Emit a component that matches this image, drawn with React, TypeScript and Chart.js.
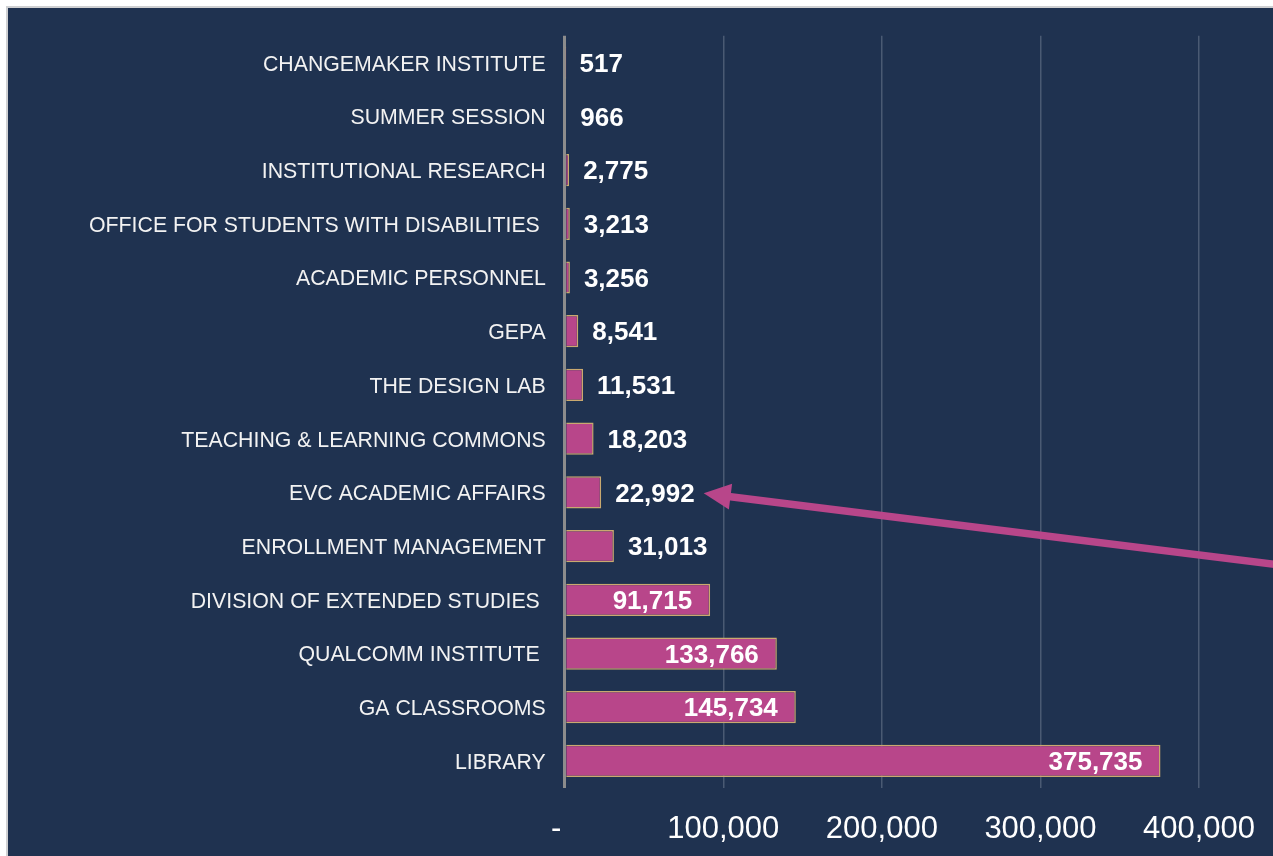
import React, { useEffect, useRef } from "react";
import { Chart, registerables } from "chart.js";

Chart.register(...registerables);

const categories = [
  "CHANGEMAKER INSTITUTE",
  "SUMMER SESSION",
  "INSTITUTIONAL RESEARCH",
  "OFFICE FOR STUDENTS WITH DISABILITIES ",
  "ACADEMIC PERSONNEL",
  "GEPA",
  "THE DESIGN LAB",
  "TEACHING & LEARNING COMMONS",
  "EVC ACADEMIC AFFAIRS",
  "ENROLLMENT MANAGEMENT",
  "DIVISION OF EXTENDED STUDIES ",
  "QUALCOMM INSTITUTE ",
  "GA CLASSROOMS",
  "LIBRARY",
];

const values = [517, 966, 2775, 3213, 3256, 8541, 11531, 18203, 22992, 31013, 91715, 133766, 145734, 375735];

const xTicks = [0, 100000, 200000, 300000, 400000];

const highlightIndex = 8;

const NAVY = "#1f3250";
const PINK = "#b8468a";
const FONT = "'Liberation Sans', Arial, sans-serif";

const fmt = (v: number) => v.toLocaleString("en-US");

const labelsPlugin = {
  id: "valueLabels",
  afterDatasetsDraw(chart: any) {
    const ctx = chart.ctx;
    const meta = chart.getDatasetMeta(0);
    ctx.save();
    ctx.font = `bold 26px ${FONT}`;
    ctx.fillStyle = "#ffffff";
    ctx.textBaseline = "middle";
    let arrowTip: { x: number; y: number } | null = null;
    meta.data.forEach((bar: any, i: number) => {
      const v = values[i];
      const txt = fmt(v);
      const y = bar.y + 2;
      if (v >= 50000) {
        ctx.textAlign = "right";
        ctx.fillText(txt, bar.x - 18, y);
      } else {
        ctx.textAlign = "left";
        const x0 = bar.x + 14;
        ctx.fillText(txt, x0, y);
        if (i === highlightIndex) {
          const w = ctx.measureText(txt).width;
          arrowTip = { x: x0 + w + 9, y: bar.y + 1 };
        }
      }
    });
    if (arrowTip) {
      const tip = arrowTip as { x: number; y: number };
      const tail = { x: 1275, y: tip.y + 72 };
      const ang = Math.atan2(tail.y - tip.y, tail.x - tip.x);
      const headLen = 27;
      const headHalf = 13;
      const bx = tip.x + Math.cos(ang) * headLen;
      const by = tip.y + Math.sin(ang) * headLen;
      ctx.strokeStyle = PINK;
      ctx.lineWidth = 7.5;
      ctx.beginPath();
      ctx.moveTo(bx - Math.cos(ang) * 2, by - Math.sin(ang) * 2);
      ctx.lineTo(tail.x, tail.y);
      ctx.stroke();
      ctx.fillStyle = PINK;
      ctx.beginPath();
      ctx.moveTo(tip.x, tip.y);
      ctx.lineTo(bx - Math.sin(ang) * headHalf, by + Math.cos(ang) * headHalf);
      ctx.lineTo(bx + Math.sin(ang) * headHalf, by - Math.cos(ang) * headHalf);
      ctx.closePath();
      ctx.fill();
    }
    ctx.restore();
  },
};

export default function App() {
  const ref = useRef<HTMLCanvasElement | null>(null);
  useEffect(() => {
    document.body.style.overflow = "hidden";
    const canvas = ref.current;
    if (!canvas) return;
    const chart = new Chart(canvas, {
      type: "bar",
      data: {
        labels: categories,
        datasets: [
          {
            data: values,
            backgroundColor: PINK,
            borderColor: "#c9a96f",
            borderWidth: 1.5,
            barPercentage: 0.6,
            categoryPercentage: 1,
          },
        ],
      },
      options: {
        indexAxis: "y",
        animation: false,
        responsive: false,
        maintainAspectRatio: false,
        layout: { padding: { left: 62, right: 18, top: 20, bottom: 12 } },
        plugins: { legend: { display: false }, tooltip: { enabled: false } },
        scales: {
          x: {
            min: 0,
            max: 400000,
            afterBuildTicks: (axis: any) => {
              axis.ticks = xTicks.map((v) => ({ value: v }));
            },
            ticks: {
              color: "#ffffff",
              font: { family: FONT, size: 31 },
              padding: 23,
              callback: (v: any) => (Number(v) === 0 ? "-  " : fmt(Number(v))),
            },
            grid: {
              color: (c: any) => (c.tick && c.tick.value === 0 ? "#8c8c8c" : "#4a5a73"),
              lineWidth: (c: any) => (c.tick && c.tick.value === 0 ? 3 : 1.5),
              drawTicks: false,
            },
            border: { display: false },
          },
          y: {
            ticks: {
              color: "#f2f2f2",
              font: { family: FONT, size: 21.3 },
              padding: 19,
              labelOffset: 2,
            },
            grid: { display: false, drawTicks: false },
            border: { display: false },
          },
        },
      },
      plugins: [labelsPlugin],
    });
    return () => chart.destroy();
  }, []);
  return (
    <div
      style={{
        position: "fixed",
        left: 6,
        top: 6,
        width: 1267,
        height: 850,
        borderLeft: "2px solid #cfd0d2",
        borderTop: "2px solid #cfd0d2",
        background: NAVY,
        overflow: "hidden",
      }}
    >
      <canvas
        ref={ref}
        width={1270}
        height={879}
        style={{ display: "block", marginTop: -4 }}
      />
    </div>
  );
}
